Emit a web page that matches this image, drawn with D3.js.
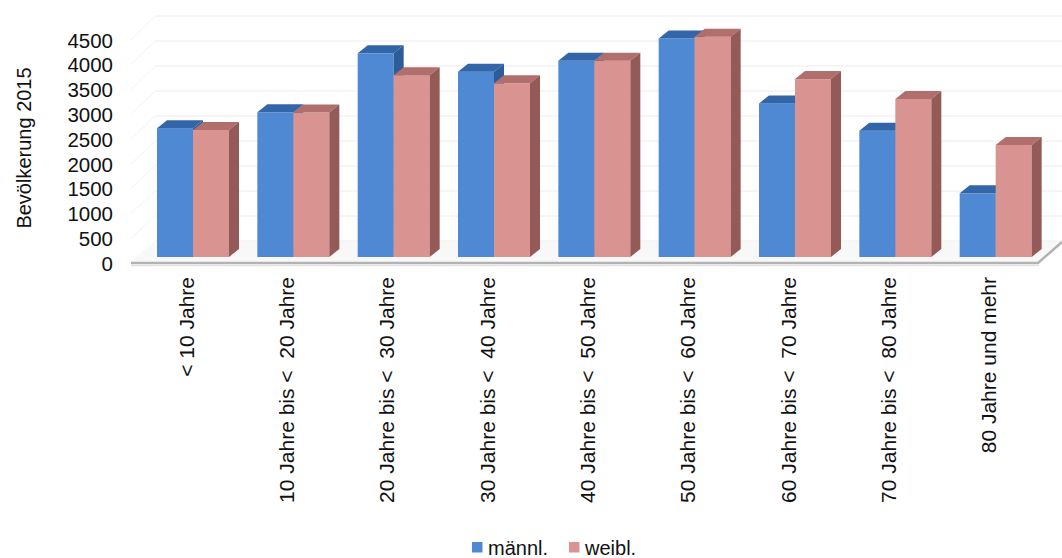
<!DOCTYPE html>
<html>
<head>
<meta charset="utf-8">
<script src="https://cdn.jsdelivr.net/npm/d3@7/dist/d3.min.js"></script>
<style>
  html, body { margin: 0; padding: 0; background: #fff; }
  svg { display: block; font-family: "Liberation Sans", Arial, sans-serif; }
</style>
</head>
<body>
<svg id="chart" width="1062" height="558"></svg>
<script>
// ---- data ----
const categories = [
  "< 10 Jahre",
  "10 Jahre bis <\u00a0 20 Jahre",
  "20 Jahre bis <\u00a0 30 Jahre",
  "30 Jahre bis <\u00a0 40 Jahre",
  "40 Jahre bis <\u00a0 50 Jahre",
  "50 Jahre bis <\u00a0 60 Jahre",
  "60 Jahre bis <\u00a0 70 Jahre",
  "70 Jahre bis <\u00a0 80 Jahre",
  "80 Jahre und mehr"
];
const seriesNames = ["männl.", "weibl."];
const maleValues   = [2600, 2920, 4110, 3740, 3960, 4410, 3100, 2550, 1285];
const femaleValues = [2565, 2915, 3670, 3505, 3960, 4445, 3590, 3190, 2260];
const yTicks = [0, 500, 1000, 1500, 2000, 2500, 3000, 3500, 4000, 4500];
const yTitle = "Bevölkerung 2015";

// ---- layout ----
const svg = d3.select("#chart");
const colors = [
  { front: "#5089d3", top: "#3366a8", side: "#2d5c9a" },
  { front: "#d99391", top: "#b06e6c", side: "#935a58" }
];
const depthDX = 10, depthDY = -8;       // bar depth
const floorDX = 24, floorDY = -21;      // floor / wall depth

const yLabel = d3.scaleLinear().domain([0, 4500]).range([263, 40]);
const yBar   = d3.scaleLinear().domain([0, 4500]).range([257, 34]);
const yBack  = d3.scaleLinear().domain([0, 4500]).range([241, 16]);
const x = d3.scaleBand().domain(categories).range([133, 1036]).padding(0);
const xs = d3.scaleBand().domain(seriesNames).range([24, 96]).padding(0);

const floorL = 131, floorR = 1038, floorY = 263;

// back wall gridlines
svg.append("g").selectAll("line").data(yTicks).join("line")
  .attr("x1", floorL + floorDX).attr("x2", floorR + floorDX)
  .attr("y1", d => yBack(d)).attr("y2", d => yBack(d))
  .attr("stroke", "#ececec").attr("stroke-width", 1);

// left side wall gridlines
svg.append("g").selectAll("line").data(yTicks).join("line")
  .attr("x1", floorL).attr("y1", d => yLabel(d))
  .attr("x2", floorL + floorDX).attr("y2", d => yBack(d))
  .attr("stroke", "#f3f3f3").attr("stroke-width", 1);

// floor
svg.append("path")
  .attr("d", `M${floorL},${floorY} L${floorR},${floorY} L${floorR + floorDX},${floorY + floorDY} L${floorL + floorDX},${floorY + floorDY} Z`)
  .attr("fill", "#f8f8f8").attr("stroke", "none");
svg.append("path")
  .attr("d", `M${floorL},${floorY} L${floorR},${floorY} L${floorR + floorDX},${floorY + floorDY}`)
  .attr("fill", "none").attr("stroke", "#b3b3b3").attr("stroke-width", 2.5);
svg.append("path")
  .attr("d", `M${floorL},${floorY + 2.5} L${floorR + 1},${floorY + 2.5}`)
  .attr("fill", "none").attr("stroke", "#e2e2e2").attr("stroke-width", 1.5);

// bars
const rows = [];
categories.forEach((c, i) => {
  rows.push({ c, s: 0, v: maleValues[i] });
  rows.push({ c, s: 1, v: femaleValues[i] });
});
const barW = xs.bandwidth();
const bars = svg.append("g").selectAll("g").data(rows).join("g");
bars.each(function(d) {
  const g = d3.select(this);
  const x0 = x(d.c) + xs(seriesNames[d.s]);
  const x1 = x0 + barW;
  const yT = yBar(d.v), yB = yBar(0);
  const col = colors[d.s];
  g.append("rect").attr("x", x0).attr("y", yT).attr("width", barW).attr("height", yB - yT)
    .attr("fill", col.front);
  g.append("path")
    .attr("d", `M${x0},${yT} L${x1},${yT} L${x1 + depthDX},${yT + depthDY} L${x0 + depthDX},${yT + depthDY} Z`)
    .attr("fill", col.top);
  g.append("path")
    .attr("d", `M${x1},${yT} L${x1 + depthDX},${yT + depthDY} L${x1 + depthDX},${yB + depthDY} L${x1},${yB} Z`)
    .attr("fill", col.side);
});

// y axis
const yAxis = svg.append("g").attr("transform", "translate(116,0)")
  .call(d3.axisLeft(yLabel).tickValues(yTicks).tickSize(0).tickPadding(3).tickFormat(d3.format("d")));
yAxis.select(".domain").remove();
yAxis.selectAll("text").attr("font-size", 20.5).attr("fill", "#111").attr("dy", "0.35em")
  .style("font-family", '"Liberation Sans", Arial, sans-serif');

// y title
svg.append("text")
  .attr("transform", "translate(31,148) rotate(-90)")
  .attr("text-anchor", "middle")
  .attr("font-size", 20).attr("fill", "#111")
  .text(yTitle);

// x axis labels
const xAxis = svg.append("g").attr("transform", "translate(3,277)")
  .call(d3.axisBottom(x).tickSize(0));
xAxis.select(".domain").remove();
xAxis.selectAll("text")
  .attr("x", 0).attr("y", 0).attr("dy", "0.35em")
  .attr("transform", "rotate(-90)")
  .style("text-anchor", "end")
  .style("font-family", '"Liberation Sans", Arial, sans-serif')
  .attr("font-size", 21).attr("fill", "#111");

// legend
const legendX = [472, 569];
const lg = svg.append("g").selectAll("g").data(seriesNames).join("g")
  .attr("transform", (d, i) => `translate(${legendX[i]},0)`);
lg.append("rect").attr("x", 0).attr("y", 542).attr("width", 10.5).attr("height", 10.5)
  .attr("fill", (d, i) => colors[i].front);
lg.append("text").attr("x", 16).attr("y", 554.5).attr("font-size", 20).attr("fill", "#111")
  .text(d => d);
</script>
</body>
</html>
